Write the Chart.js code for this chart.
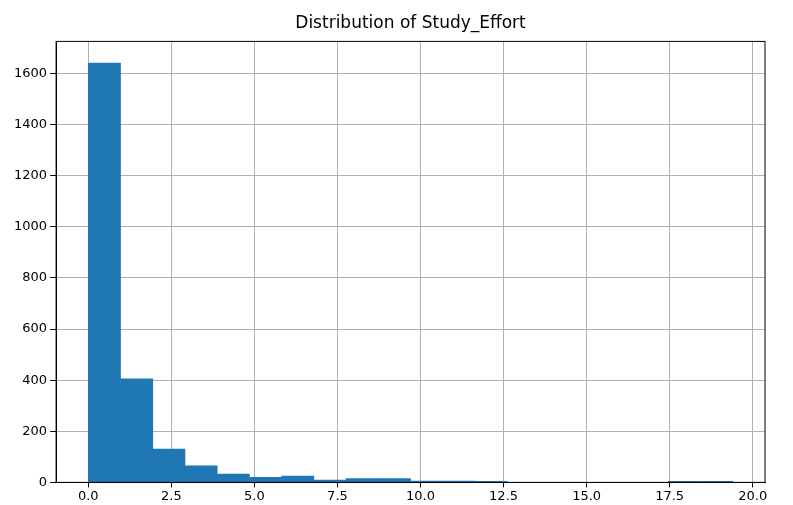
<!DOCTYPE html>
<html>
<head>
<script src="https://cdn.jsdelivr.net/npm/chart.js@4"></script>
<style>
  body { margin: 0; background: #fff; }
  #wrap { width: 793px; height: 505px; }
</style>
</head>
<body>
<div id="wrap"><canvas id="hist"></canvas></div>
<script>
// histogram of Study_Effort, 20 bins from 0 to ~19.4
var binWidth = 0.97;
var counts = [1640, 405, 130, 65, 33, 20, 25, 9, 15, 15, 5, 5, 4, 0, 0, 0, 0, 0, 4, 4];
var xTicks = [0, 2.5, 5, 7.5, 10, 12.5, 15, 17.5, 20];
var yTicks = [0, 200, 400, 600, 800, 1000, 1200, 1400, 1600];

var points = counts.map(function (c, i) {
  return { x: (i + 0.5) * binWidth, y: c };
});

var ctx = document.getElementById('hist').getContext('2d');
new Chart(ctx, {
  type: 'bar',
  data: {
    datasets: [{
      data: points,
      backgroundColor: '#1f77b4',
      barPercentage: 1,
      categoryPercentage: 1,
      borderWidth: 0
    }]
  },
  options: {
    responsive: true,
    maintainAspectRatio: false,
    animation: false,
    layout: { padding: { left: 11, right: 28, top: 7, bottom: 0 } },
    plugins: {
      legend: { display: false },
      tooltip: { enabled: false },
      title: {
        display: true,
        text: 'Distribution of Study_Effort',
        color: '#000',
        font: { family: 'DejaVu Sans', size: 17, weight: 'normal' },
        padding: { top: 6, bottom: 8 }
      }
    },
    scales: {
      x: {
        type: 'linear',
        offset: false,
        min: -0.97,
        max: 20.37,
        afterBuildTicks: function (axis) {
          axis.ticks = xTicks.map(function (v) { return { value: v }; });
        },
        ticks: {
          color: '#000',
          padding: 1,
          font: { family: 'DejaVu Sans', size: 13 },
          maxRotation: 0,
          callback: function (v) { return v.toFixed(1); }
        },
        grid: { offset: false, color: '#b0b0b0', tickColor: '#000', tickLength: 5 },
        border: { color: '#000' }
      },
      y: {
        min: 0,
        max: 1725,
        afterBuildTicks: function (axis) {
          axis.ticks = yTicks.map(function (v) { return { value: v }; });
        },
        ticks: {
          color: '#000',
          font: { family: 'DejaVu Sans', size: 13 },
          callback: function (v) { return String(v); }
        },
        grid: { color: '#b0b0b0', tickColor: '#000', tickLength: 6 },
        border: { color: '#000' }
      }
    }
  },
  plugins: [{
    id: 'frame',
    afterLayout: function (chart) {
      // centre the title over the plot area, like matplotlib
      var t = chart.titleBlock, a = chart.chartArea;
      if (t) { t.left = a.left; t.right = a.right; t.width = a.right - a.left; }
    },
    afterDraw: function (chart) {
      var a = chart.chartArea, c = chart.ctx;
      c.save();
      c.strokeStyle = '#000';
      c.lineWidth = 1;
      c.strokeRect(a.left, a.top, a.right - a.left, a.bottom - a.top);
      c.restore();
    }
  }]
});
</script>
</body>
</html>
